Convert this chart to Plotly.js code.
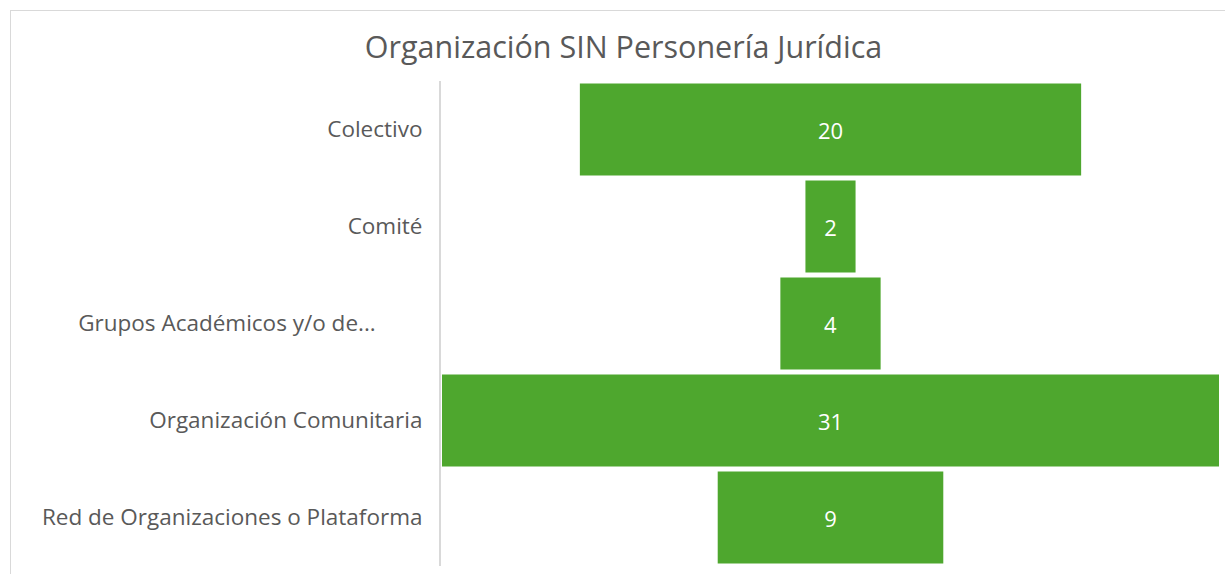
<!DOCTYPE html>
<html>
<head>
<meta charset="utf-8">
<script src="https://cdn.plot.ly/plotly-3.0.1.min.js"></script>
<style>
html,body{margin:0;padding:0;background:#fff;overflow:hidden;}
#frame{position:absolute;left:10px;top:10px;width:1230px;height:580px;border:1px solid #d9d9d9;box-sizing:border-box;}
#chart{position:absolute;left:0;top:0;width:1225px;height:574px;}
</style>
</head>
<body>
<div id="frame"></div>
<div id="chart"></div>
<script>
const categories = ["Colectivo", "Comité", "Grupos Académicos y/o de...", "Organización Comunitaria", "Red de Organizaciones o Plataforma"];
const values = [20, 2, 4, 31, 9];
const tickLabels = ["Colectivo", "Comité", "Grupos Académicos y/o de..." + "\u00a0".repeat(8), "Organización Comunitaria", "Red de Organizaciones o Plataforma"];
const chartTitle = "Organización SIN Personería Jurídica";

const maxV = Math.max(...values);
const trace = {
  type: 'funnel',
  y: categories,
  x: values,
  orientation: 'h',
  marker: {color: '#4EA72E', line: {width: 0}},
  connector: {visible: false},
  textinfo: 'value',
  textposition: 'inside',
  insidetextanchor: 'middle',
  textfont: {color: '#ffffff', size: 22, family: 'Open Sans'},
  hoverinfo: 'y+x'
};

const layout = {
  width: 1225, height: 574,
  margin: {l: 441, r: 5, t: 81, b: 8},
  paper_bgcolor: 'rgba(0,0,0,0)',
  plot_bgcolor: 'rgba(0,0,0,0)',
  font: {family: 'Open Sans', color: '#595959'},
  title: {text: chartTitle, font: {size: 30.5, color: '#595959', family: 'Open Sans'}, x: 0.509, xanchor: 'center', y: 0.918, yanchor: 'middle'},
  funnelgap: 0.05,
  showlegend: false,
  xaxis: {range: [-maxV/2 - 0.04, maxV/2 + 0.04], showgrid: false, zeroline: false, showticklabels: false, showline: false, fixedrange: true},
  yaxis: {
    tickmode: 'array', tickvals: categories, ticktext: tickLabels,
    tickfont: {size: 22.5, color: '#595959', family: 'Open Sans'},
    ticklabelstandoff: 12,
    showline: true, linecolor: '#d9d9d9', linewidth: 2,
    ticks: '', ticklen: 0, showgrid: false, zeroline: false, fixedrange: true
  }
};

Plotly.newPlot('chart', [trace], layout, {displayModeBar: false, staticPlot: true});
</script>
</body>
</html>
